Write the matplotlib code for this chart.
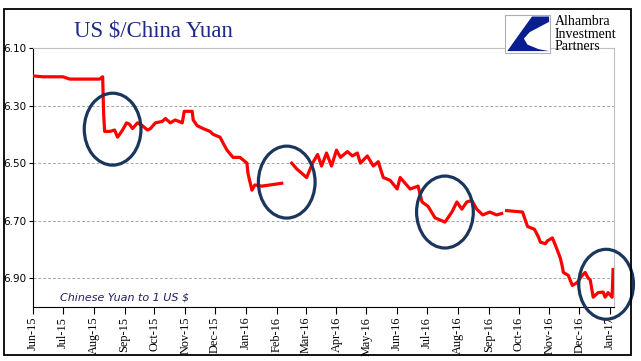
import numpy as np
import pandas as pd
import matplotlib
matplotlib.use("Agg")
import matplotlib.pyplot as plt
import matplotlib.dates as mdates
from matplotlib.patches import Ellipse, Rectangle, Polygon

# USD/CNY (None = gap in the series)
dates = [
    "2015-06-01", "2015-06-11", "2015-07-01", "2015-07-08", "2015-08-07", "2015-08-10",
    "2015-08-11", "2015-08-12", "2015-08-17", "2015-08-22", "2015-08-25", "2015-08-30",
    "2015-09-03", "2015-09-06", "2015-09-09", "2015-09-14", "2015-09-19", "2015-09-24",
    "2015-09-27", "2015-10-02", "2015-10-09", "2015-10-12", "2015-10-17", "2015-10-22",
    "2015-10-29", "2015-10-31", "2015-11-08", "2015-11-09", "2015-11-13", "2015-11-19",
    "2015-11-26", "2015-11-29", "2015-12-06", "2015-12-09", "2015-12-13", "2015-12-19",
    "2015-12-26", "2016-01-02", "2016-01-03", "2016-01-07", "2016-01-10", "2016-01-17",
    "2016-01-27", "2016-02-06", "2016-02-09", "2016-02-16", "2016-02-21", "2016-03-02",
    "2016-03-08", "2016-03-13", "2016-03-17", "2016-03-22", "2016-03-27", "2016-04-01",
    "2016-04-05", "2016-04-12", "2016-04-17", "2016-04-22", "2016-04-25", "2016-05-02",
    "2016-05-08", "2016-05-13", "2016-05-18", "2016-05-25", "2016-06-01", "2016-06-04",
    "2016-06-09", "2016-06-14", "2016-06-22", "2016-06-26", "2016-07-02", "2016-07-09",
    "2016-07-19", "2016-07-26", "2016-07-31", "2016-08-05", "2016-08-10", "2016-08-15",
    "2016-08-20", "2016-08-26", "2016-09-02", "2016-09-09", "2016-09-14", "2016-09-16",
    "2016-09-19", "2016-10-05", "2016-10-10", "2016-10-17", "2016-10-21", "2016-10-23",
    "2016-10-28", "2016-10-30", "2016-11-04", "2016-11-07", "2016-11-12", "2016-11-14",
    "2016-11-15", "2016-11-20", "2016-11-24", "2016-11-29", "2016-12-04", "2016-12-07",
    "2016-12-10", "2016-12-12", "2016-12-15", "2016-12-20", "2016-12-25", "2016-12-27",
    "2016-12-30", "2017-01-03", "2017-01-04",
]
usdcny = [
    6.197, 6.200, 6.200, 6.208, 6.208, 6.200,
    6.330, 6.390, 6.390, 6.385, 6.410, 6.385,
    6.360, 6.365, 6.380, 6.360, 6.370, 6.385,
    6.380, 6.360, 6.355, 6.345, 6.360, 6.350,
    6.360, 6.320, 6.320, 6.350, 6.370, 6.380,
    6.390, 6.400, 6.410, 6.430, 6.455, 6.480,
    6.480, 6.500, 6.535, 6.594, 6.576, 6.580,
    6.575, 6.570, None, 6.500, 6.520, 6.550,
    6.500, 6.470, 6.510, 6.465, 6.510, 6.455,
    6.480, 6.460, 6.475, 6.465, 6.500, 6.475,
    6.510, 6.495, 6.550, 6.560, 6.590, 6.550,
    6.570, 6.590, 6.580, 6.635, 6.650, 6.690,
    6.705, 6.670, 6.635, 6.660, 6.635, 6.630,
    6.660, 6.680, 6.670, 6.680, 6.675, None,
    6.665, 6.670, 6.720, 6.730, 6.757, 6.775,
    6.780, 6.770, 6.760, 6.785, 6.830, 6.860,
    6.880, 6.890, 6.925, 6.915, 6.890, 6.880,
    6.900, 6.905, 6.966, 6.950, 6.948, 6.966,
    6.950, 6.966, 6.870,
]
month_ticks = pd.date_range("2015-06-01", "2017-01-01", freq="MS")
y_ticks = [6.10, 6.30, 6.50, 6.70, 6.90]

# highlighted episodes: (centre date, centre value, width in days, height)
circles = [
    ("2015-08-20", 6.382, 57, 0.25),
    ("2016-02-11", 6.566, 57, 0.25),
    ("2016-07-19", 6.670, 57, 0.25),
    ("2016-12-28", 6.921, 55, 0.243),
]

x = pd.to_datetime(dates)
y = np.array([np.nan if v is None else v for v in usdcny], dtype=float)

fig = plt.figure(figsize=(6.41, 3.61), dpi=100)
ax = fig.add_axes([0.0515, 0.1496, 0.9065, 0.7174])

ax.plot(x, y, color="#ff0000", lw=2.3, solid_joinstyle="round", zorder=3)

ax.set_ylim(7.0, 6.1)
ax.set_xlim(pd.Timestamp("2015-06-01"), pd.Timestamp("2017-01-05"))
ax.set_yticks(y_ticks)
ax.set_yticklabels(["%.2f" % v for v in y_ticks], fontsize=7.5, family="DejaVu Sans")
ax.set_xticks(month_ticks)
ax.xaxis.set_major_formatter(mdates.DateFormatter("%b-%y"))
for lab in ax.get_xticklabels():
    lab.set_rotation(90)
    lab.set_fontsize(8.8)
    lab.set_family("Liberation Serif")

ax.grid(axis="y", color="#a6a6a6", ls=(0, (3, 2)), lw=0.7)
ax.tick_params(axis="x", direction="out", length=5, width=0.8, pad=2)
ax.tick_params(axis="y", direction="out", length=3, width=0.8, pad=2)
ax.spines["left"].set_color("black")
ax.spines["bottom"].set_color("black")
ax.spines["top"].set_color("#bfbfbf")
ax.spines["right"].set_color("#bfbfbf")

for d, v, w, h in circles:
    ax.add_patch(Ellipse((mdates.date2num(pd.Timestamp(d)), v), w, h, fill=False,
                         ec="#1b365d", lw=2.3, clip_on=False, zorder=4))

ax.text(0.046, 6.966, "Chinese Yuan to 1 US $", transform=ax.get_yaxis_transform(),
        fontsize=8, style="italic", color="#1f1f5f", family="DejaVu Sans", va="center")

fig.text(0.239, 0.914, "US $/China Yuan", fontsize=16.5, color="#1f2a80",
         family="Liberation Serif", ha="center", va="center")

# logo box
lx0, ly0, lw_, lh_ = 505 / 641, 1 - 53 / 361, 45 / 641, 38 / 361
fig.add_artist(Rectangle((lx0, ly0), lw_, lh_, transform=fig.transFigure,
                         fc="white", ec="#b0b0b0", lw=0.8, zorder=5))
shape = [(0.60, 0.96), (0.98, 0.96), (0.98, 0.82), (0.55, 0.55), (0.42, 0.38),
         (0.50, 0.22), (0.75, 0.10), (0.98, 0.05), (0.05, 0.05), (0.35, 0.55)]
fig.add_artist(Polygon([(lx0 + px * lw_, ly0 + py * lh_) for px, py in shape],
                       transform=fig.transFigure, fc="#0a1f8f", ec="none", zorder=6))
fig.text(555 / 641, 1 - 34 / 361, "Alhambra\nInvestment\nPartners", fontsize=10,
         family="Liberation Serif", color="black", va="center", ha="left",
         linespacing=0.92, zorder=6)

# outer frame
fig.add_artist(Rectangle((4 / 641, 1 - 355 / 361), 627 / 641, 346 / 361,
                         transform=fig.transFigure, fill=False, ec="black", lw=1.3))

fig.savefig("out.png", dpi=100)
